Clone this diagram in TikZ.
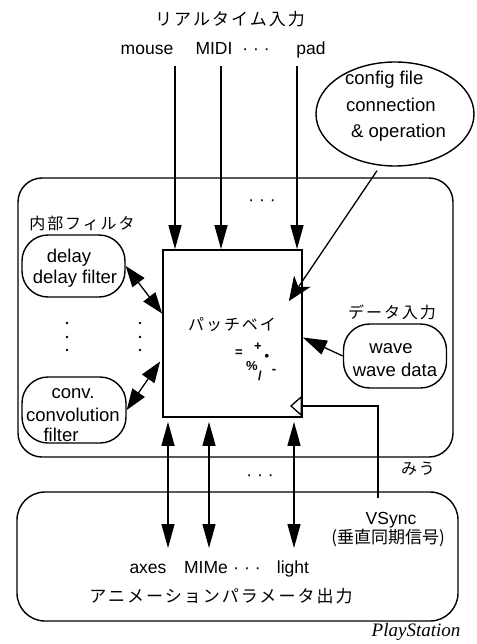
\documentclass[tikz,border=0pt]{standalone}
\usepackage{fontspec}
\setmainfont{Liberation Sans}
\newfontfamily\jp[LetterSpace=12]{Noto Sans CJK JP}
\newfontfamily\jpn{Noto Sans CJK JP}
\newfontfamily\tms{Liberation Serif}
\usetikzlibrary{arrows.meta,shapes.geometric,calc}
\begin{document}
\begin{tikzpicture}[x=1pt,y=1pt,
  every node/.style={inner sep=0pt},
  lat/.style={font=\fontsize{17.5}{20}\selectfont},
  blat/.style={font=\fontsize{18.5}{21}\selectfont},
  jpl/.style={font=\jp\fontsize{16}{19}\selectfont},
  jpb/.style={font=\jp\fontsize{17}{20}\selectfont},
  rbox/.style={draw, line width=1.4pt, rounded corners=26pt},
  ln/.style={line width=1.3pt},
  bigarr/.style={ln, -{Triangle[length=24pt,width=13pt]}},
  dblarr/.style={ln, {Triangle[length=24pt,width=13pt]}-{Triangle[length=24pt,width=13pt]}},
  smdbl/.style={ln, {Triangle[length=21pt,width=15pt]}-{Triangle[length=21pt,width=15pt]}},
  starr/.style={ln, -{Stealth[length=24pt,width=20pt,inset=7pt]}},
  sym/.style={font=\bfseries\fontsize{13}{13}\selectfont}
]
\useasboundingbox (0,0) rectangle (476,-644);

% containers
\node[rbox, rounded corners=24pt, minimum width=435pt, minimum height=279pt] (miu) at (235.5,-317.5) {};
\node[rbox, rounded corners=28pt, minimum width=441pt, minimum height=129pt] (ps) at (237.5,-556.5) {};

% patch bay
\node[draw, line width=1.8pt, minimum width=139pt, minimum height=167pt] (pb) at (232.5,-333.5) {};
\node[jpl] (pbl) at (232,-325) {パッチベイ};
\node[sym] (s1) at (239,-353) {=};
\node[sym] (s2) at (258,-347) {+};
\node[sym] (s3) at (267,-357) {•};
\node[sym] (s4) at (252,-366) {\%};
\node[sym] (s5) at (260,-376) {/};
\node[sym] (s6) at (274,-371) {-};

% title and inputs
\node[jpb] (title) at (230,-19) {リアルタイム入力};
\node[lat, anchor=base] (mouse) at (147,-55) {mouse};
\node[lat, anchor=base] (midi) at (214,-55) {MIDI};
\node[lat, anchor=base] (idots) at (256,-55) {· · ·};
\node[lat, anchor=base] (pad) at (311,-55) {pad};
\coordinate (i1) at (175,-66);
\coordinate (i2) at (221,-66);
\coordinate (i3) at (297,-66);
\draw[bigarr] (i1) -- (i1 |- pb.north);
\draw[bigarr] (i2) -- (i2 |- pb.north);
\draw[bigarr] (i3) -- (i3 |- pb.north);
\node[lat] (mdots) at (262,-203) {· · ·};

% config ellipse
\node[draw, ellipse, line width=1.4pt, minimum width=158pt, minimum height=104pt] (cfg) at (395,-114) {};
\node[blat, anchor=base west] (c1) at (345,-85) {config file};
\node[blat, anchor=base west] (c2) at (346,-112) {connection};
\node[blat, anchor=base west] (c3) at (351,-138) {\& operation};
\draw[starr] ($(cfg.south)+(-18,-4)$) -- ($(pb.north east)+(-14,-52)$);

% internal filters
\node[jpl] (filt) at (82,-223) {内部フィルタ};
\node[rbox, minimum width=103pt, minimum height=62pt] (delay) at (73.5,-266) {};
\node[blat, anchor=base] (d1) at (69,-262) {delay};
\node[blat, anchor=base] (d2) at (75,-283) {delay filter};
\node[rbox, minimum width=104pt, minimum height=66pt] (conv) at (74,-410) {};
\node[blat, anchor=base] (v1) at (73,-398) {conv.};
\node[blat, anchor=base] (v2) at (73,-421) {convolution};
\node[blat, anchor=base] (v3) at (61,-441) {filter};
\foreach \x in {67,140} \foreach \y in {323,337,350} \fill (\x,-\y) circle (1.4pt);
\draw[smdbl] (delay.east) -- ($(pb.west)+(0,20)$);
\draw[smdbl] ($(pb.west)+(-2,-28)$) -- (conv.east);

% data input
\node[jpl] (din) at (392,-312) {データ入力};
\node[rbox, minimum width=103pt, minimum height=64pt] (wave) at (395,-356) {};
\node[blat, anchor=base] (w1) at (391,-353) {wave};
\node[blat, anchor=base] (w2) at (395,-376) {wave data};
\draw[ln, -{Triangle[length=24pt,width=15pt]}] (wave.west) -- ($(pb.east)+(0,-4)$);

% VSync
\coordinate (vtip) at (290,-406);
\coordinate (vend) at (378,-498);
\draw[ln, -{Triangle[open,length=12pt,width=21pt,line width=1.3pt]}] (vend) |- (vtip);
\node[lat, anchor=base] (vs) at (391,-524) {VSync};
\node[font=\jpn\fontsize{17}{20}\selectfont] (vs2) at (388,-538) {(垂直同期信号)};
\node[jpl] (miul) at (418,-469) {みう};

% outputs
\coordinate (o1) at (168,-548);
\coordinate (o2) at (209,-548);
\coordinate (o3) at (294,-548);
\draw[dblarr, shorten <=4pt] (o1 |- pb.south) -- (o1);
\draw[dblarr, shorten <=4pt] (o2 |- pb.south) -- (o2);
\draw[dblarr, shorten <=4pt] (o3 |- pb.south) -- (o3);
\node[lat] (odots) at (260,-478) {· · ·};
\node[lat, anchor=base] (axes) at (148,-573) {axes};
\node[lat, anchor=base] (mime) at (206,-573) {MIMe};
\node[lat, anchor=base] (odots2) at (247,-573) {· · ·};
\node[lat, anchor=base] (light) at (293,-573) {light};
\node[jpb] (anim) at (221,-596) {アニメーションパラメータ出力};
\node[font=\tms\itshape\fontsize{19}{22}\selectfont, anchor=base] (pst) at (416,-636) {PlayStation};
\end{tikzpicture}
\end{document}
